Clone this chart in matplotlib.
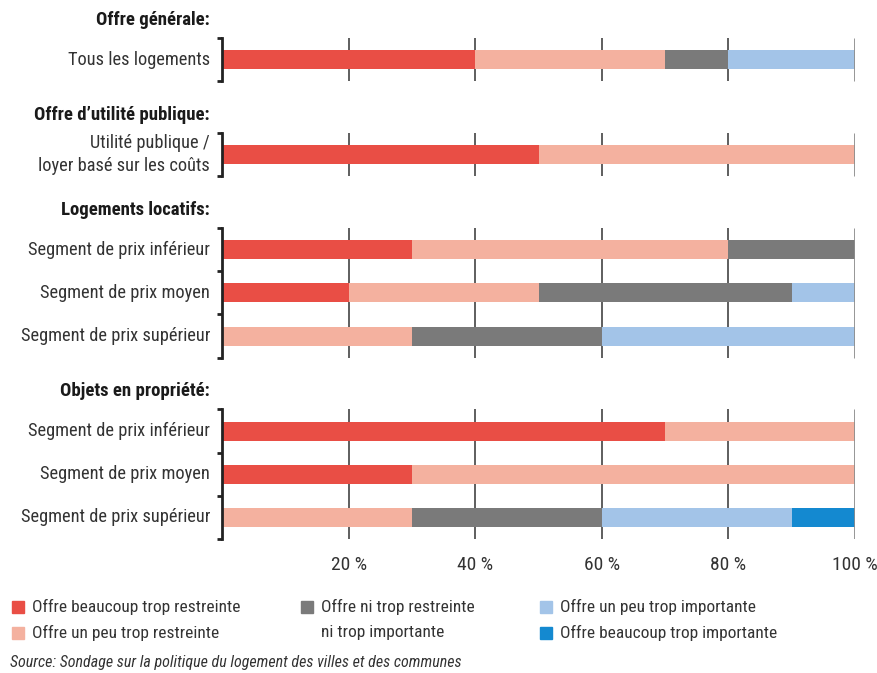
import os
import numpy as np
import matplotlib.pyplot as plt
from matplotlib import font_manager
from matplotlib.patches import Rectangle
import matplotlib.transforms as mtransforms


def narrow_font(bold=False, italic=False):
    # look for an installed condensed sans face
    prefs = ["roboto condensed", "robotocondensed", "liberation sans narrow", "liberationsansnarrow",
             "dejavu sans condensed", "dejavusanscondensed", "condensed", "narrow"]
    best = None
    for f in font_manager.fontManager.ttflist:
        key = (f.name + " " + os.path.basename(f.fname)).lower()
        if "mono" in key or "serif" in key.replace("sans serif", ""):
            continue
        if not any(p in key for p in prefs) and f.stretch not in ("condensed", "semi-condensed"):
            continue
        w = f.weight if isinstance(f.weight, int) else (700 if "bold" in str(f.weight) else 400)
        is_bold = w >= 600 or "bold" in key
        is_it = f.style in ("italic", "oblique")
        if is_bold != bold or is_it != italic:
            continue
        if any(s in key for s in ["light", "thin", "black", "medium", "semibold", "extrabold"]):
            continue
        rank = next((i for i, p in enumerate(prefs) if p in key), len(prefs))
        if best is None or rank < best[0]:
            best = (rank, f.fname)
    if best is None:
        return font_manager.FontProperties(family="DejaVu Sans",
                                           weight="bold" if bold else "normal",
                                           style="italic" if italic else "normal")
    return font_manager.FontProperties(fname=best[1])


fp_reg = narrow_font()
fp_bold = narrow_font(bold=True)
fp_it = narrow_font(italic=True)

# Survey answers in percent, one list per answer category
groups = ["Offre générale:", "Offre d\u2019utilité publique:",
          "Logements locatifs:", "Objets en propriété:"]
rows = [
    ["Tous les logements"],
    ["Utilité publique /\nloyer basé sur les coûts"],
    ["Segment de prix inférieur", "Segment de prix moyen", "Segment de prix supérieur"],
    ["Segment de prix inférieur", "Segment de prix moyen", "Segment de prix supérieur"],
]
beaucoup_restreinte = [40, 50, 30, 20, 0, 70, 30, 0]
peu_restreinte = [30, 50, 50, 30, 30, 30, 70, 30]
ni_ni = [10, 0, 20, 40, 30, 0, 0, 30]
peu_importante = [20, 0, 0, 10, 40, 0, 0, 30]
beaucoup_importante = [0, 0, 0, 0, 0, 0, 0, 10]

series = [beaucoup_restreinte, peu_restreinte, ni_ni, peu_importante, beaucoup_importante]
legend_labels = ["Offre beaucoup trop restreinte", "Offre un peu trop restreinte",
                 "Offre ni trop restreinte\nni trop importante",
                 "Offre un peu trop importante", "Offre beaucoup trop importante"]
colors = ["#e94e45", "#f4b19f", "#7a7a7a", "#a3c4e8", "#1489d0"]
ticks = [20, 40, 60, 80, 100]

# vertical layout: one unit per row, extra gap between groups
group_gap = 2.2
ypos, spans = [], []
y = 0.0
for g in rows:
    start = y
    for _ in g:
        ypos.append(y)
        y += 1
    spans.append((start, y - 1))
    y += group_gap - 1
ypos = np.array(ypos)

fig = plt.figure(figsize=(8.77, 6.73), dpi=100)
ax = fig.add_axes([222 / 877, 1 - 539 / 673, 633 / 877, 501 / 673])
ax.set_xlim(0, 100)
ax.set_ylim(ypos[-1] + 0.5, -0.5)
for s in ax.spines.values():
    s.set_visible(False)
ax.set_yticks([])

# stacked bars
left = np.zeros(len(ypos))
for vals, c in zip(series, colors):
    vals = np.array(vals)
    ax.barh(ypos, vals, left=left, height=0.44, color=c, zorder=2)
    left += vals

blend = mtransforms.blended_transform_factory(ax.transAxes, ax.transData)
tick_len = 0.75
for (a, b), title, labels in zip(spans, groups, rows):
    top, bot = a - 0.5, b + 0.5
    # grid lines for this group only
    for t in ticks[:-1]:
        ax.vlines(t, top, bot, color="#333333", lw=1.1, zorder=1)
    ax.vlines(100, top, bot, color="#8c8c8c", lw=2, zorder=3)
    # bracket on the left
    ax.vlines(0, top, bot, color="#222222", lw=2, zorder=4, clip_on=False,
              capstyle="projecting")
    for yy in np.arange(top, bot + 0.01, 1.0):
        ax.hlines(yy, -tick_len, 0, color="#222222", lw=2, zorder=4, clip_on=False,
                  capstyle="butt")
    ax.text(-0.019, a - 0.92, title, transform=blend, ha="right", va="center",
            fontproperties=fp_bold, fontsize=13.5, color="#1a1a1a")

labels_flat = [l for g in rows for l in g]
for yy, lab in zip(ypos, labels_flat):
    ax.text(-0.019, yy, lab, transform=blend, ha="right", va="center",
            fontproperties=fp_reg, fontsize=13.2, color="#333333", linespacing=1.35)

ax.set_xticks(ticks)
ax.set_xticklabels([f"{t} %" for t in ticks], fontproperties=fp_reg, fontsize=14, color="#333333")
ax.tick_params(axis="x", length=0, pad=12)

# legend drawn by hand in three columns
cols_x = [12, 301, 540]
rows_y = [607, 633]
slots = [(0, 0), (0, 1), (1, 0), (2, 0), (2, 1)]
sq = 12
for (ci, ri), lab, c in zip(slots, legend_labels, colors):
    x0, y0 = cols_x[ci], rows_y[ri]
    fig.patches.append(Rectangle((x0 / 877, 1 - (y0 + sq / 2) / 673), sq / 877, sq / 673,
                                 transform=fig.transFigure, color=c))
    for k, line in enumerate(lab.split("\n")):
        fig.text((x0 + 20) / 877, 1 - rows_y[ri + k] / 673, line, ha="left", va="center",
                 fontproperties=fp_reg, fontsize=12.5, color="#333333")

fig.text(10 / 877, 1 - 663 / 673, "Source: Sondage sur la politique du logement des villes et des communes",
         ha="left", va="center", fontproperties=fp_it, fontsize=11.5, color="#333333")

fig.savefig("out.png", dpi=100)
